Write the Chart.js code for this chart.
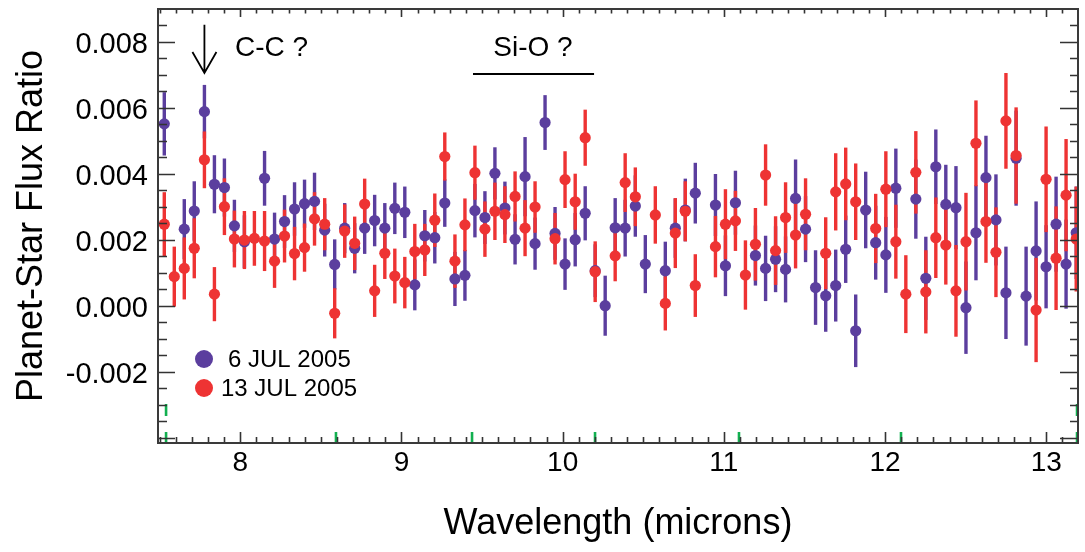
<!DOCTYPE html>
<html>
<head>
<meta charset="utf-8">
<script src="https://cdn.jsdelivr.net/npm/chart.js@4/dist/chart.umd.min.js"></script>
<style>html,body{margin:0;padding:0;background:#fff;}canvas{display:block;}</style>
</head>
<body>
<canvas id="c" width="1085" height="552"></canvas>
<script>
// ---------------- data ----------------
const wavelength = [7.529,7.591,7.653,7.715,7.778,7.840,7.902,7.964,8.026,8.088,
  8.151,8.213,8.275,8.337,8.399,8.461,8.524,8.586,8.648,8.710,
  8.772,8.834,8.897,8.959,9.021,9.083,9.145,9.207,9.269,9.332,
  9.394,9.456,9.518,9.580,9.642,9.705,9.767,9.829,9.891,9.953,
  10.015,10.078,10.140,10.202,10.264,10.326,10.388,10.451,10.513,10.575,
  10.637,10.699,10.761,10.823,10.886,10.948,11.010,11.072,11.134,11.196,
  11.259,11.321,11.383,11.445,11.507,11.569,11.632,11.694,11.756,11.818,
  11.880,11.942,12.005,12.067,12.129,12.191,12.253,12.315,12.377,12.440,
  12.502,12.564,12.626,12.688,12.750,12.813,12.875,12.937,12.999,13.061,
  13.123,13.186];

const flux6Jul = [0.00551,null,0.00232,0.00287,0.00588,0.00368,0.00358,0.00242,0.00194,null,
  0.00386,0.00202,0.00255,0.00293,0.00309,0.00316,0.00229,0.00125,0.00235,0.00174,
  0.00235,0.00258,0.00235,0.00295,0.00283,0.00063,0.00212,0.00206,0.00311,0.00081,
  0.00092,0.00288,0.00267,0.00401,0.00296,0.00201,0.00391,0.00188,0.00555,0.00219,
  0.00126,0.00200,0.00280,0.00106,0.00000,0.00236,0.00235,0.00302,0.00126,null,
  0.00106,0.00235,0.00290,0.00341,null,0.00305,0.00121,0.00312,null,0.00152,
  0.00113,0.00141,0.00110,0.00325,0.00232,0.00055,0.00030,0.00061,0.00171,-0.00076,
  0.00290,0.00191,0.00154,0.00356,null,0.00323,0.00083,0.00421,0.00307,0.00297,
  -0.00006,0.00221,0.00388,0.00260,0.00039,0.00447,0.00029,0.00166,0.00118,0.00247,
  0.00126,0.00221];

const err6Jul = [0.00096,0.00090,0.00091,0.00090,0.00081,0.00088,0.00088,0.00079,0.00080,0.00080,
  0.00083,0.00080,0.00080,0.00081,0.00073,0.00087,0.00080,0.00076,0.00076,0.00076,
  0.00078,0.00078,0.00076,0.00078,0.00078,0.00077,0.00078,0.00078,0.00072,0.00082,
  0.00077,0.00081,0.00080,0.00079,0.00080,0.00076,0.00120,0.00079,0.00083,0.00080,
  0.00078,0.00081,0.00082,0.00080,0.00091,0.00090,0.00086,0.00093,0.00088,0.00090,
  0.00088,0.00090,0.00095,0.00092,0.00090,0.00094,0.00092,0.00097,0.00095,0.00091,
  0.00099,0.00100,0.00100,0.00118,0.00100,0.00113,0.00109,0.00109,0.00102,0.00110,
  0.00116,0.00112,0.00115,0.00120,0.00120,0.00120,0.00126,0.00113,0.00120,0.00126,
  0.00140,0.00144,0.00127,0.00138,0.00140,0.00144,0.00150,0.00150,0.00126,0.00144,
  0.00135,0.00140];

const flux13Jul = [0.00247,0.00088,0.00113,0.00174,0.00442,0.00035,0.00300,0.00202,0.00199,0.00204,
  0.00196,0.00135,0.00211,0.00158,0.00176,0.00263,0.00247,-0.00023,0.00226,0.00189,
  0.00308,0.00045,0.00159,0.00090,0.00070,0.00164,0.00169,0.00259,0.00452,0.00135,
  0.00245,0.00403,0.00232,0.00286,0.00276,0.00331,0.00235,0.00299,null,0.00203,
  0.00382,0.00315,0.00509,0.00103,null,0.00151,0.00373,0.00330,null,0.00275,
  0.00007,0.00220,0.00286,0.00061,null,0.00179,0.00247,0.00257,0.00093,0.00186,
  0.00396,0.00167,0.00267,0.00214,0.00277,null,0.00159,0.00345,0.00369,0.00315,
  null,0.00234,0.00353,0.00194,0.00035,0.00404,0.00042,0.00206,0.00184,0.00045,
  0.00194,0.00492,0.00255,0.00162,0.00560,0.00455,null,-0.00013,0.00383,0.00144,
  0.00335,0.00202];

const err13Jul = [0.00097,0.00091,0.00094,0.00091,0.00086,0.00082,0.00086,0.00086,0.00088,0.00083,
  0.00091,0.00081,0.00080,0.00081,0.00073,0.00081,0.00079,0.00076,0.00081,0.00081,
  0.00077,0.00079,0.00078,0.00083,0.00078,0.00084,0.00079,0.00081,0.00073,0.00081,
  0.00080,0.00082,0.00084,0.00087,0.00086,0.00076,0.00085,0.00078,0.00080,0.00078,
  0.00086,0.00085,0.00085,0.00092,0.00090,0.00077,0.00089,0.00089,0.00090,0.00087,
  0.00082,0.00106,0.00091,0.00095,0.00090,0.00093,0.00106,0.00091,0.00105,0.00110,
  0.00093,0.00104,0.00107,0.00101,0.00109,0.00110,0.00109,0.00117,0.00110,0.00116,
  0.00110,0.00105,0.00115,0.00112,0.00118,0.00125,0.00126,0.00122,0.00120,0.00139,
  0.00148,0.00130,0.00125,0.00136,0.00145,0.00146,0.00150,0.00158,0.00160,0.00157,
  0.00170,0.00159];

const seriesLabels = ['6 JUL 2005', '13 JUL 2005'];
const xTickValues = [8, 9, 10, 11, 12, 13];
const yTickValues = [-0.002, 0.000, 0.002, 0.004, 0.006, 0.008];
const greenMarks = [7.54, 8.594, 9.438, 10.201, 11.094, 12.099, 13.191];
const annotationCC = {text: 'C-C ?', x: 7.968, y: 0.00781, arrowX: 7.778, arrowTop: 0.00851, arrowTip: 0.00705};
const annotationSiO = {text: 'Si-O ?', x: 9.816, y: 0.00781, lineFrom: 9.444, lineTo: 10.195, lineY: 0.00702};

// ---------------- style ----------------
const PURPLE = '#5b3e9e';
const RED = '#ee3333';
const FONT = "'Liberation Sans', Arial, Helvetica, sans-serif";

function toPoints(fl, er) {
  const pts = [];
  for (let i = 0; i < wavelength.length; i++) {
    if (fl[i] !== null) pts.push({x: wavelength[i], y: fl[i], e: er[i]});
  }
  return pts;
}

const errorBars = {
  id: 'errorBars',
  beforeDatasetsDraw(chart) {
    const {ctx, chartArea, scales: {x, y}} = chart;
    ctx.save();
    ctx.beginPath();
    ctx.rect(chartArea.left, chartArea.top, chartArea.right - chartArea.left, chartArea.bottom - chartArea.top);
    ctx.clip();
    ctx.lineWidth = 3.4;
    ctx.lineCap = 'butt';
    [0, 1].forEach(di => {
      const ds = chart.data.datasets[di];
      ctx.strokeStyle = ds.backgroundColor;
      ds.data.forEach(p => {
        const px = x.getPixelForValue(p.x);
        ctx.beginPath();
        ctx.moveTo(px, y.getPixelForValue(p.y + p.e));
        ctx.lineTo(px, y.getPixelForValue(p.y - p.e));
        ctx.stroke();
      });
    });
    ctx.restore();
  }
};

const frameAndDecor = {
  id: 'frameAndDecor',
  afterDraw(chart) {
    const {ctx, chartArea: ca, scales: {x, y}} = chart;
    ctx.save();
    // green marks
    ctx.strokeStyle = '#12b050';
    ctx.lineWidth = 2.6;
    greenMarks.forEach((v, i) => {
      const px = x.getPixelForValue(v);
      ctx.beginPath();
      ctx.moveTo(px, ca.bottom);
      ctx.lineTo(px, ca.bottom - 11);
      if (i === 0 || i === greenMarks.length - 1) {
        ctx.moveTo(px, ca.bottom - 27);
        ctx.lineTo(px, ca.bottom - 39);
      }
      ctx.stroke();
    });
    // ticks
    ctx.strokeStyle = '#333';
    ctx.lineWidth = 1.6;
    ctx.beginPath();
    for (let k = 75; k <= 131; k++) {
      const v = k / 10;
      const px = Math.round(x.getPixelForValue(v)) + 0.5;
      const major = (k % 10 === 0);
      ctx.moveTo(px, ca.bottom); ctx.lineTo(px, ca.bottom - (major ? 11 : 6));
      ctx.moveTo(px, ca.top); ctx.lineTo(px, ca.top + (major ? 8 : 4.5));
    }
    for (let k = -8; k <= 17; k++) {
      const v = k * 0.0005;
      const py = Math.round(y.getPixelForValue(v)) + 0.5;
      const major = (k % 4 === 0);
      ctx.moveTo(ca.left, py); ctx.lineTo(ca.left + (major ? 17 : 9), py);
      ctx.moveTo(ca.right, py); ctx.lineTo(ca.right - (major ? 18 : 8), py);
    }
    ctx.stroke();
    // frame
    ctx.lineWidth = 2;
    ctx.strokeStyle = '#3a3a3a';
    ctx.strokeRect(ca.left, ca.top, ca.right - ca.left, ca.bottom - ca.top);

    // annotations
    ctx.fillStyle = '#000';
    ctx.strokeStyle = '#000';
    ctx.font = '28px ' + FONT;
    ctx.textBaseline = 'middle';
    ctx.textAlign = 'left';
    ctx.fillText(annotationCC.text, x.getPixelForValue(annotationCC.x), y.getPixelForValue(annotationCC.y));
    ctx.textAlign = 'center';
    ctx.fillText(annotationSiO.text, x.getPixelForValue(annotationSiO.x), y.getPixelForValue(annotationSiO.y));
    const ax = x.getPixelForValue(annotationCC.arrowX);
    const at = y.getPixelForValue(annotationCC.arrowTop);
    const ab = y.getPixelForValue(annotationCC.arrowTip);
    ctx.lineWidth = 1.8;
    ctx.beginPath();
    ctx.moveTo(ax, at); ctx.lineTo(ax, ab);
    ctx.moveTo(ax - 12, ab - 21); ctx.lineTo(ax, ab); ctx.lineTo(ax + 12, ab - 21);
    ctx.stroke();
    ctx.lineWidth = 2;
    ctx.beginPath();
    const ly = y.getPixelForValue(annotationSiO.lineY);
    ctx.moveTo(x.getPixelForValue(annotationSiO.lineFrom), ly);
    ctx.lineTo(x.getPixelForValue(annotationSiO.lineTo), ly);
    ctx.stroke();

    // legend
    const legendItems = [
      {label: seriesLabels[0], color: PURPLE, cy: 359, tx: 228},
      {label: seriesLabels[1], color: RED, cy: 388, tx: 221}
    ];
    ctx.font = '24px ' + FONT;
    ctx.textAlign = 'left';
    legendItems.forEach(it => {
      ctx.fillStyle = it.color;
      ctx.beginPath();
      ctx.arc(204, it.cy, 9, 0, Math.PI * 2);
      ctx.fill();
      ctx.fillStyle = '#000';
      ctx.fillText(it.label, it.tx, it.cy + 1);
    });
    ctx.restore();
  }
};

new Chart(document.getElementById('c'), {
  type: 'scatter',
  data: {
    datasets: [
      {label: seriesLabels[0], data: toPoints(flux6Jul, err6Jul), backgroundColor: PURPLE, borderColor: PURPLE,
       pointRadius: 5.6, pointHoverRadius: 5.6, borderWidth: 0, pointBorderWidth: 0, order: 2},
      {label: seriesLabels[1], data: toPoints(flux13Jul, err13Jul), backgroundColor: RED, borderColor: RED,
       pointRadius: 5.6, pointHoverRadius: 5.6, borderWidth: 0, pointBorderWidth: 0, order: 1}
    ]
  },
  options: {
    responsive: false,
    animation: false,
    devicePixelRatio: 1,
    layout: {padding: {top: 9, right: 7, left: 0, bottom: 0}},
    plugins: {legend: {display: false}, tooltip: {enabled: false}},
    events: [],
    scales: {
      x: {
        type: 'linear', min: 7.49, max: 13.197,
        afterBuildTicks: s => { s.ticks = xTickValues.map(v => ({value: v})); },
        afterFit: s => { s.height = 109; s.paddingLeft = 0; s.paddingRight = 0; },
        grid: {display: false, drawTicks: false},
        border: {display: false},
        ticks: {font: {family: FONT, size: 28}, color: '#000', padding: 3, maxRotation: 0, autoSkip: false,
                callback: v => String(v)},
        title: {display: true, text: 'Wavelength (microns)', color: '#000',
                font: {family: FONT, size: 36}, padding: {top: 0, bottom: 6}}
      },
      y: {
        type: 'linear', min: -0.00416, max: 0.00899,
        afterBuildTicks: s => { s.ticks = yTickValues.map(v => ({value: v})); },
        afterFit: s => { s.width = 158; s.paddingTop = 0; s.paddingBottom = 0; },
        grid: {display: false, drawTicks: false},
        border: {display: false},
        ticks: {font: {family: FONT, size: 29}, color: '#000', padding: 10, labelOffset: 3, autoSkip: false,
                callback: v => v.toFixed(3)},
        title: {display: true, text: 'Planet-Star Flux Ratio', color: '#000',
                font: {family: FONT, size: 36}, padding: {top: 10, bottom: 0}}
      }
    }
  },
  plugins: [errorBars, frameAndDecor]
});
</script>
</body>
</html>
